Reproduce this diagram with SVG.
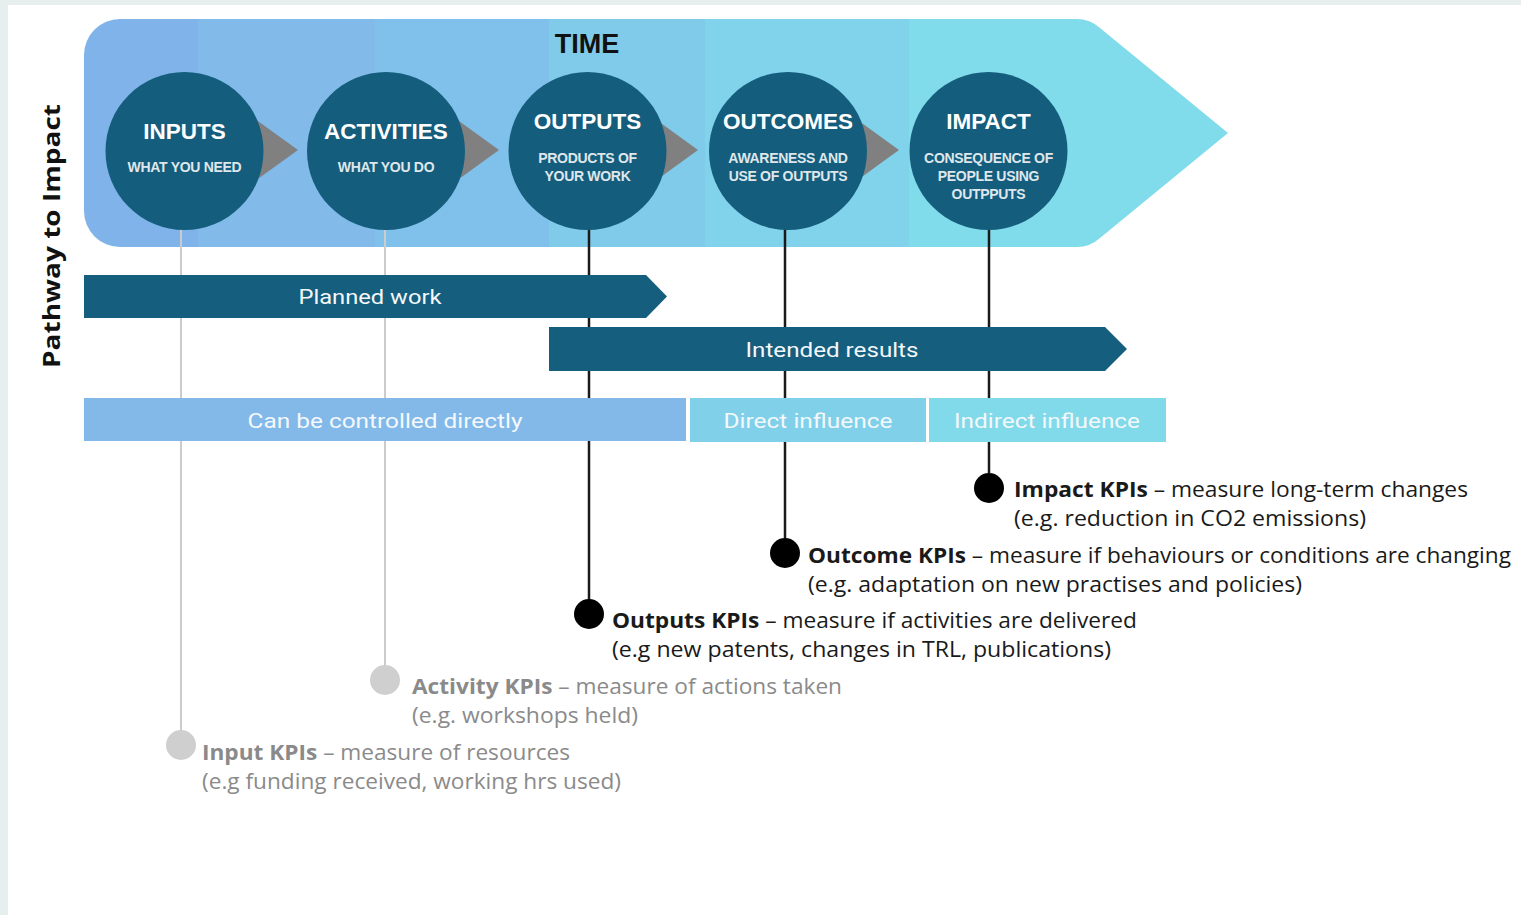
<svg xmlns="http://www.w3.org/2000/svg" width="1521" height="915" viewBox="0 0 1521 915">
  <style>
    .title{font-family:"Liberation Sans",Arial,sans-serif;font-weight:bold;font-size:22.5px;fill:#ffffff;text-anchor:middle}
    .sub{font-family:"Liberation Sans",Arial,sans-serif;font-weight:bold;font-size:14px;fill:#dfe7ec;text-anchor:middle;letter-spacing:-0.3px}
    .stage{fill:#155d7d}
    .flow{fill:#808080}
    .bar-dark{fill:#155e7e}
    .bar-label{font-family:Roboto,"Liberation Sans",sans-serif;font-size:21px;fill:#f4f8fb;text-anchor:middle}
    .kpi{font-family:"Open Sans","Liberation Sans",sans-serif;font-size:21px}
    .kpi-dark{fill:#1a1a1a}
    .kpi-grey{fill:#8a8a8a}
    .b{font-weight:bold}
    .line-dark{stroke:#1a1a1a;stroke-width:2.5;fill:none}
    .line-grey{stroke:#cccccc;stroke-width:2;fill:none}
    .dot-dark{fill:#000000}
    .dot-grey{fill:#cfcfcf}
  </style>
  <defs>
    <clipPath id="bannerClip">
      <path d="M120 19 H1077 Q1090 19 1100 28 L1228 133 L1100 238 Q1090 247 1077 247 H120 A36 36 0 0 1 84 211 V55 A36 36 0 0 1 120 19 Z"/>
    </clipPath>
  </defs>

  <!-- page -->
  <rect x="0" y="0" width="1521" height="915" fill="#ffffff"/>
  <rect x="0" y="0" width="1521" height="5" fill="#e6efee"/>
  <rect x="0" y="0" width="8" height="915" fill="#e6efee"/>

  <!-- time banner with coloured phases -->
  <g id="banner" clip-path="url(#bannerClip)">
    <rect x="84" y="19" width="114" height="228" fill="#7fb3e9"/>
    <rect x="198" y="19" width="177" height="228" fill="#82bbea"/>
    <rect x="375" y="19" width="174" height="228" fill="#80c1eb"/>
    <rect x="549" y="19" width="156" height="228" fill="#80cbea"/>
    <rect x="705" y="19" width="204" height="228" fill="#80d3ea"/>
    <rect x="909" y="19" width="330" height="228" fill="#80dbea"/>
  </g>
  <text x="587" y="53" font-family="Liberation Sans, Arial, sans-serif" font-weight="bold" font-size="27" fill="#111111" text-anchor="middle">TIME</text>

  <text transform="translate(60 236) rotate(-90)" font-family="Open Sans, Liberation Sans, sans-serif" font-weight="bold" font-size="24" fill="#111111" text-anchor="middle" textLength="264" lengthAdjust="spacingAndGlyphs">Pathway to Impact</text>

  <!-- connectors: drop lines from each stage to its KPI marker, and flow arrows -->
  <g id="connectors">
    <path class="line-grey" d="M181 228 V275 M181 318 V398 M181 441 V731"/>
    <path class="line-grey" d="M385 228 V275 M385 318 V398 M385 441 V666"/>
    <path class="line-dark" d="M589 228 V398 M589 441 V600"/>
    <path class="line-dark" d="M785 228 V327 M785 371 V398 M785 442 V538"/>
    <path class="line-dark" d="M989 228 V327 M989 371 V398 M989 442 V473"/>
    <polygon class="flow" points="240,108 298,150 240,192"/>
    <polygon class="flow" points="441,108 499,150 441,192"/>
    <polygon class="flow" points="640,108 698,150 640,192"/>
    <polygon class="flow" points="841,108 899,150 841,192"/>
  </g>

  <!-- stages -->
  <g id="inputs">
    <circle class="stage" cx="184.5" cy="151" r="79"/>
    <text class="title" x="184.5" y="139">INPUTS</text>
    <text class="sub" x="184.5" y="172">WHAT YOU NEED</text>
  </g>
  <g id="activities">
    <circle class="stage" cx="386" cy="151" r="79"/>
    <text class="title" x="386" y="139">ACTIVITIES</text>
    <text class="sub" x="386" y="172">WHAT YOU DO</text>
  </g>
  <g id="outputs">
    <circle class="stage" cx="587.5" cy="151" r="79"/>
    <text class="title" x="587.5" y="129">OUTPUTS</text>
    <text class="sub" x="587.5" y="163">PRODUCTS OF</text>
    <text class="sub" x="587.5" y="181">YOUR WORK</text>
  </g>
  <g id="outcomes">
    <circle class="stage" cx="788" cy="151" r="79"/>
    <text class="title" x="788" y="129">OUTCOMES</text>
    <text class="sub" x="788" y="163">AWARENESS AND</text>
    <text class="sub" x="788" y="181">USE OF OUTPUTS</text>
  </g>
  <g id="impact">
    <circle class="stage" cx="988.5" cy="151" r="79"/>
    <text class="title" x="988.5" y="129">IMPACT</text>
    <text class="sub" x="988.5" y="163">CONSEQUENCE OF</text>
    <text class="sub" x="988.5" y="181">PEOPLE USING</text>
    <text class="sub" x="988.5" y="199">OUTPPUTS</text>
  </g>

  <!-- horizon bars -->
  <g id="planned-work">
    <polygon class="bar-dark" points="84,275 646,275 667,296.5 646,318 84,318"/>
    <text class="bar-label" x="370" y="304" textLength="143" lengthAdjust="spacingAndGlyphs">Planned work</text>
  </g>
  <g id="intended-results">
    <polygon class="bar-dark" points="549,327 1105,327 1127,349 1105,371 549,371"/>
    <text class="bar-label" x="832" y="357" textLength="173" lengthAdjust="spacingAndGlyphs">Intended results</text>
  </g>
  <g id="controlled-directly">
    <rect x="84" y="398" width="602" height="43" fill="#82b9e9"/>
    <text class="bar-label" x="385" y="428" textLength="275" lengthAdjust="spacingAndGlyphs">Can be controlled directly</text>
  </g>
  <g id="direct-influence">
    <rect x="690" y="398" width="236" height="44" fill="#80d0ea"/>
    <text class="bar-label" x="808" y="428" textLength="169" lengthAdjust="spacingAndGlyphs">Direct influence</text>
  </g>
  <g id="indirect-influence">
    <rect x="929" y="398" width="237" height="44" fill="#80daea"/>
    <text class="bar-label" x="1047" y="428" textLength="186" lengthAdjust="spacingAndGlyphs">Indirect influence</text>
  </g>

  <!-- KPI markers -->
  <g id="impact-kpis">
    <circle class="dot-dark" cx="989" cy="488" r="15"/>
    <text class="kpi kpi-dark" x="1014" y="497" textLength="454" lengthAdjust="spacingAndGlyphs"><tspan class="b">Impact KPIs</tspan> – measure long-term changes</text>
    <text class="kpi kpi-dark" x="1014" y="526" textLength="352" lengthAdjust="spacingAndGlyphs">(e.g. reduction in CO2 emissions)</text>
  </g>
  <g id="outcome-kpis">
    <circle class="dot-dark" cx="785" cy="553" r="15"/>
    <text class="kpi kpi-dark" x="808" y="563" textLength="703" lengthAdjust="spacingAndGlyphs"><tspan class="b">Outcome KPIs</tspan> – measure if behaviours or conditions are changing</text>
    <text class="kpi kpi-dark" x="808" y="592" textLength="494" lengthAdjust="spacingAndGlyphs">(e.g. adaptation on new practises and policies)</text>
  </g>
  <g id="outputs-kpis">
    <circle class="dot-dark" cx="589" cy="614" r="15"/>
    <text class="kpi kpi-dark" x="612" y="628" textLength="525" lengthAdjust="spacingAndGlyphs"><tspan class="b">Outputs KPIs</tspan> – measure if activities are delivered</text>
    <text class="kpi kpi-dark" x="612" y="657" textLength="499" lengthAdjust="spacingAndGlyphs">(e.g new patents, changes in TRL, publications)</text>
  </g>
  <g id="activity-kpis">
    <circle class="dot-grey" cx="385" cy="680" r="15"/>
    <text class="kpi kpi-grey" x="412" y="694" textLength="430" lengthAdjust="spacingAndGlyphs"><tspan class="b">Activity KPIs</tspan> – measure of actions taken</text>
    <text class="kpi kpi-grey" x="412" y="723" textLength="226" lengthAdjust="spacingAndGlyphs">(e.g. workshops held)</text>
  </g>
  <g id="input-kpis">
    <circle class="dot-grey" cx="181" cy="745" r="15"/>
    <text class="kpi kpi-grey" x="202" y="760" textLength="368" lengthAdjust="spacingAndGlyphs"><tspan class="b">Input KPIs</tspan> – measure of resources</text>
    <text class="kpi kpi-grey" x="202" y="789" textLength="419" lengthAdjust="spacingAndGlyphs">(e.g funding received, working hrs used)</text>
  </g>
</svg>
